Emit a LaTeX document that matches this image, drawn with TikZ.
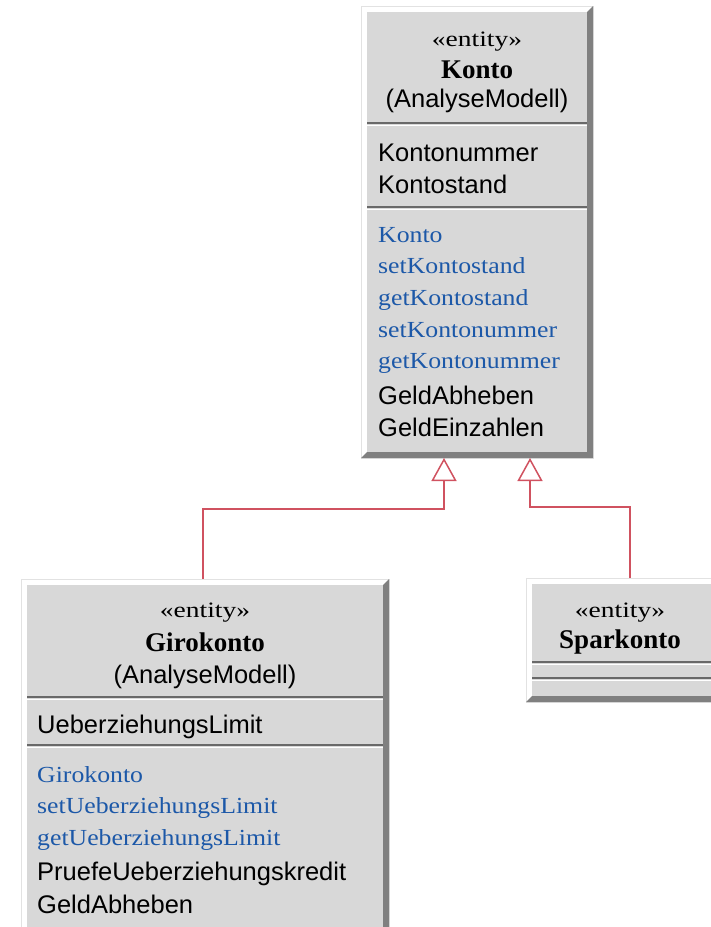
\documentclass[tikz,border=0pt]{standalone}
\usepackage{fontspec}
\setmainfont{Liberation Serif}
\newfontfamily\sansface{Liberation Sans}
\usetikzlibrary{arrows.meta}

\definecolor{bodygray}{RGB}{216,216,216}
\definecolor{bevelgray}{RGB}{128,128,128}
\definecolor{framegray}{RGB}{226,226,226}
\definecolor{sepgray}{RGB}{105,105,105}
\definecolor{opblue}{RGB}{28,88,168}
\definecolor{linkred}{RGB}{208,82,96}

\tikzset{
  attr/.style={anchor=base west, inner sep=0pt, text=black,
    font=\sansface\fontsize{25.5}{30}\selectfont},
  oper/.style={anchor=base west, inner sep=0pt, text=opblue,
    font=\fontsize{23}{28}\selectfont},
  stereo/.style={anchor=base, inner sep=0pt,
    font=\fontsize{22}{26}\selectfont},
  cname/.style={anchor=base, inner sep=0pt,
    font=\bfseries\fontsize{27}{32}\selectfont},
  pkg/.style={anchor=base, inner sep=0pt,
    font=\sansface\fontsize{25.5}{30}\selectfont},
  inherit/.style={draw=linkred, line width=1.5pt,
    -{Triangle[open, length=23pt, width=25pt, fill=white]}},
}

% wide serif used for operations and stereotypes
\newcommand\opname[1]{\scalebox{1.12}[1]{#1}}
\newcommand\stname[1]{\scalebox{1.25}[1]{#1}}

% raised class frame: #1 name, (#2,#3) outer top-left, (#4,#5) outer bottom-right
\newcommand\classframe[5]{%
  \fill[white] (#2,#3) rectangle (#4,#5);
  \draw[framegray, line width=1pt] (#2,#3) rectangle (#4,#5);
  \fill[bevelgray] (#4,#3) -- (#4,#5) -- (#2,#5) -- ({#2+6},{#5-6})
    -- ({#4-6},{#5-6}) -- ({#4-6},{#3+6}) -- cycle;
  \node[fill=bodygray, inner sep=0pt, outer sep=0pt, anchor=north west,
    minimum width={#4-#2-12}, minimum height={#5-#3-12}]
    (#1) at ({#2+6},{#3+6}) {};
}

% compartment separator: from x=#1 to x=#2 at height #3
\newcommand\compsep[3]{%
  \draw[sepgray, line width=1.6pt] (#1,#3) -- (#2,#3);
  \draw[white, line width=1.4pt] (#1,{#3+2.6}) -- (#2,{#3+2.6});
}

\begin{document}
\begin{tikzpicture}[x=1pt, y=-1pt]
\useasboundingbox (0,0) rectangle (711,927);
\clip (0,0) rectangle (711,927);

% ---- Konto ----
\classframe{konto}{361}{6}{593}{458}
\compsep{367}{587}{123}
\compsep{367}{587}{207}
\node[stereo] (kst) at (477,46) {\stname{«entity»}};
\node[cname] (kname) at (477,78) {Konto};
\node[pkg] (kpkg) at (477,107) {(AnalyseModell)};
\node[attr] (ka1) at (378,161) {Kontonummer};
\node[attr] (ka2) at (378,193) {Kontostand};
\node[oper] (ko1) at (378,242) {\opname{Konto}};
\node[oper] (ko2) at (378,273) {\opname{setKontostand}};
\node[oper] (ko3) at (378,305) {\opname{getKontostand}};
\node[oper] (ko4) at (378,337) {\opname{setKontonummer}};
\node[oper] (ko5) at (378,368) {\opname{getKontonummer}};
\node[attr] (ko6) at (378,404) {GeldAbheben};
\node[attr] (ko7) at (378,436) {GeldEinzahlen};

% ---- Girokonto ----
\classframe{giro}{21}{579}{389}{950}
\compsep{27}{383}{697}
\compsep{27}{383}{745}
\node[stereo] (gst) at (205,617) {\stname{«entity»}};
\node[cname] (gname) at (205,651) {Girokonto};
\node[pkg] (gpkg) at (205,683) {(AnalyseModell)};
\node[attr] (ga1) at (37,733) {UeberziehungsLimit};
\node[oper] (go1) at (37,782) {\opname{Girokonto}};
\node[oper] (go2) at (37,813) {\opname{setUeberziehungsLimit}};
\node[oper] (go3) at (37,845) {\opname{getUeberziehungsLimit}};
\node[attr] (go4) at (37,880) {PruefeUeberziehungskredit};
\node[attr] (go5) at (37,913) {GeldAbheben};

% ---- Sparkonto ----
\classframe{spar}{526}{578}{717}{702}
\compsep{532}{711}{662}
\compsep{532}{711}{678}
\node[stereo] (sst) at (620,617) {\stname{«entity»}};
\node[cname] (sname) at (620,648) {Sparkonto};

% ---- generalisations ----
\coordinate (kontoL) at (444,458);
\coordinate (kontoR) at (530,458);
\coordinate (giroTop) at (203,579);
\coordinate (sparTop) at (630,578);
\draw[inherit] (giroTop) -- ++(0,-70) -| (kontoL);
\draw[inherit] (sparTop) -- ++(0,-71) -| (kontoR);
\end{tikzpicture}
\end{document}
